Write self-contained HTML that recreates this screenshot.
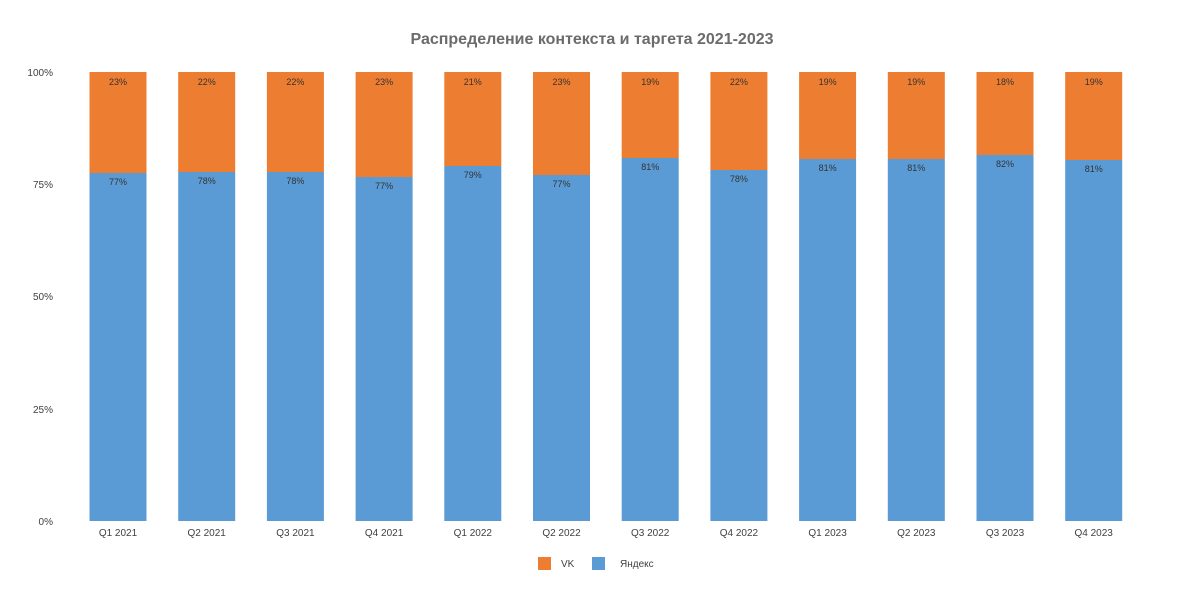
<!DOCTYPE html>
<html><head><meta charset="utf-8"><style>
body{margin:0;background:#fff;}
svg{display:block;font-family:"Liberation Sans","DejaVu Sans",sans-serif;}
</style></head><body>
<svg width="1184" height="601" viewBox="0 0 1184 601">
<text x="592" y="44" text-anchor="middle" font-size="16" font-weight="bold" fill="#6b6b6b">Распределение контекста и таргета 2021-2023</text>
<g font-size="10" fill="#404040" text-anchor="end">
<text x="53" y="76">100%</text><text x="53" y="188">75%</text><text x="53" y="300">50%</text><text x="53" y="413">25%</text><text x="53" y="525">0%</text>
</g>
<g fill="#ed7d31">
<rect x="89.5" y="72" width="57" height="101"/>
<rect x="178.2" y="72" width="57" height="100"/>
<rect x="266.9" y="72" width="57" height="100"/>
<rect x="355.6" y="72" width="57" height="105"/>
<rect x="444.3" y="72" width="57" height="94"/>
<rect x="533.0" y="72" width="57" height="103"/>
<rect x="621.7" y="72" width="57" height="86"/>
<rect x="710.4" y="72" width="57" height="98"/>
<rect x="799.1" y="72" width="57" height="87"/>
<rect x="887.8" y="72" width="57" height="87"/>
<rect x="976.5" y="72" width="57" height="83"/>
<rect x="1065.2" y="72" width="57" height="88"/>
</g>
<g fill="#5b9bd5">
<rect x="89.5" y="173" width="57" height="348"/>
<rect x="178.2" y="172" width="57" height="349"/>
<rect x="266.9" y="172" width="57" height="349"/>
<rect x="355.6" y="177" width="57" height="344"/>
<rect x="444.3" y="166" width="57" height="355"/>
<rect x="533.0" y="175" width="57" height="346"/>
<rect x="621.7" y="158" width="57" height="363"/>
<rect x="710.4" y="170" width="57" height="351"/>
<rect x="799.1" y="159" width="57" height="362"/>
<rect x="887.8" y="159" width="57" height="362"/>
<rect x="976.5" y="155" width="57" height="366"/>
<rect x="1065.2" y="160" width="57" height="361"/>
</g>
<g font-size="9" fill="#333" text-anchor="middle">
<text x="118" y="85">23%</text><text x="206.7" y="85">22%</text><text x="295.4" y="85">22%</text><text x="384.1" y="85">23%</text>
<text x="472.8" y="85">21%</text><text x="561.5" y="85">23%</text><text x="650.2" y="85">19%</text><text x="738.9" y="85">22%</text>
<text x="827.6" y="85">19%</text><text x="916.3" y="85">19%</text><text x="1005" y="85">18%</text><text x="1093.7" y="85">19%</text>
<text x="118" y="185">77%</text><text x="206.7" y="184">78%</text><text x="295.4" y="184">78%</text><text x="384.1" y="189">77%</text>
<text x="472.8" y="178">79%</text><text x="561.5" y="187">77%</text><text x="650.2" y="170">81%</text><text x="738.9" y="182">78%</text>
<text x="827.6" y="171">81%</text><text x="916.3" y="171">81%</text><text x="1005" y="167">82%</text><text x="1093.7" y="172">81%</text>
</g>
<g font-size="10" fill="#404040" text-anchor="middle">
<text x="118" y="536">Q1 2021</text><text x="206.7" y="536">Q2 2021</text><text x="295.4" y="536">Q3 2021</text><text x="384.1" y="536">Q4 2021</text>
<text x="472.8" y="536">Q1 2022</text><text x="561.5" y="536">Q2 2022</text><text x="650.2" y="536">Q3 2022</text><text x="738.9" y="536">Q4 2022</text>
<text x="827.6" y="536">Q1 2023</text><text x="916.3" y="536">Q2 2023</text><text x="1005" y="536">Q3 2023</text><text x="1093.7" y="536">Q4 2023</text>
</g>
<g font-size="10" fill="#404040">
<rect x="538" y="557" width="13" height="13" fill="#ed7d31"/><text x="561" y="567">VK</text>
<rect x="592" y="557" width="13" height="13" fill="#5b9bd5"/><text x="620" y="567">Яндекс</text>
</g>
</svg>
</body></html>
